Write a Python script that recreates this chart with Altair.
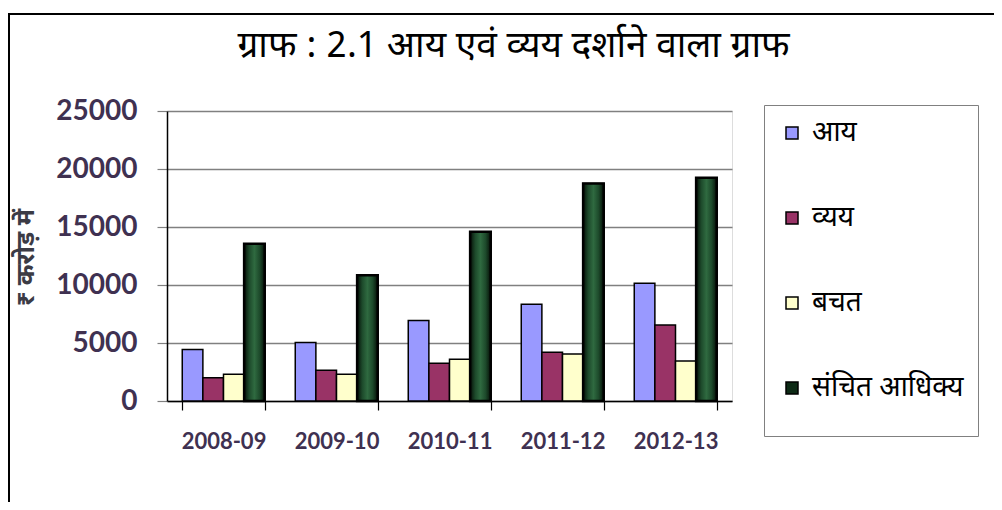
import altair as alt
import pandas as pd

years = ["2008-09", "2009-10", "2010-11", "2011-12", "2012-13"]
series = ["आय", "व्यय", "बचत", "संचित आधिक्य"]
aay = [4450, 5050, 6950, 8350, 10150]
vyay = [2000, 2650, 3250, 4200, 6550]
bachat = [2300, 2300, 3600, 4050, 3450]
sanchit = [13550, 10850, 14600, 18750, 19250]
colors = ["#9999ff", "#993366", "#ffffcc", "#0d2a15"]
y_ticks = [0, 5000, 10000, 15000, 20000, 25000]

rows = []
for name, vals in zip(series, [aay, vyay, bachat, sanchit]):
    for yr, v in zip(years, vals):
        rows.append({"year": yr, "series": name, "value": v})
df = pd.DataFrame(rows)

DEV = "Noto Sans Devanagari, Lohit Devanagari, FreeSans, sans-serif"
NUM = "Lato, Open Sans, sans-serif"

x_enc = alt.X("year:N", sort=years,
              scale=alt.Scale(paddingInner=0.27, paddingOuter=0.135),
              axis=alt.Axis(title=None, labelAngle=0, labelFont=NUM, labelFontSize=22,
                            labelFontWeight="bold", labelColor="#3f3151", labelPadding=21,
                            domainColor="black", domainWidth=1.5, tickColor="black",
                            tickWidth=1.2, tickSize=9, tickBand="extent", grid=False))
xo_enc = alt.XOffset("series:N", sort=series, scale=alt.Scale(domain=series, paddingInner=0))
y_enc = alt.Y("value:Q", scale=alt.Scale(domain=[0, 25000], nice=False),
              axis=alt.Axis(title="₹ करोड़ में", values=y_ticks, format="d",
                            titleFont=DEV, titleFontSize=25, titleFontWeight="bold",
                            titleColor="#3b3b45", titleX=-142, titleY=146, titleAngle=270,
                            titleAlign="center", titleBaseline="middle",
                            labelFont=NUM, labelFontSize=28, labelFontWeight="bold",
                            labelColor="#3f3151", labelPadding=20,
                            domainColor="black", domainWidth=1.5,
                            tickColor="#808080", tickSize=10, tickWidth=1.2,
                            gridColor="#808080", gridWidth=1.5))

base = alt.Chart(df).mark_bar(stroke="black", strokeWidth=1.5).encode(
    x=x_enc, xOffset=xo_enc, y=y_enc,
    color=alt.Color("series:N", sort=series,
                    scale=alt.Scale(domain=series, range=colors),
                    legend=alt.Legend(title=" ", titleOrient="bottom", titleFontSize=20,
                                      titlePadding=0, orient="none", legendX=597, legendY=-6,
                                      padding=14, strokeColor="#808080",
                                      fillColor="white", symbolType="square", symbolSize=144,
                                      symbolStrokeColor="black", symbolStrokeWidth=1.5,
                                      labelFont=DEV, labelFontSize=28, labelColor="black",
                                      labelOffset=6, rowPadding=57)),
)

grad = alt.Gradient(gradient="linear", x1=0, x2=1, y1=0, y2=0,
                    stops=[alt.GradientStop(color="#050f07", offset=0),
                           alt.GradientStop(color="#1d4a2b", offset=0.25),
                           alt.GradientStop(color="#2f6a40", offset=0.5),
                           alt.GradientStop(color="#1d4a2b", offset=0.75),
                           alt.GradientStop(color="#050f07", offset=1)])

overlay = alt.Chart(df).transform_filter(alt.datum.series == "संचित आधिक्य").mark_bar(
    color=grad, stroke="black", strokeWidth=2.5).encode(x=x_enc, xOffset=xo_enc, y=y_enc)

frame_top = alt.Chart(df).mark_rule(color="black", strokeWidth=2).encode(
    x=alt.value(-159), x2=alt.value(840), y=alt.value(-97))
frame_left = alt.Chart(df).mark_rule(color="black", strokeWidth=2).encode(
    x=alt.value(-158), y=alt.value(-98), y2=alt.value(420))

chart = alt.layer(base, overlay, frame_top, frame_left).properties(
    width=565, height=290,
    title=alt.TitleParams("ग्राफ : 2.1 आय एवं व्यय दर्शाने वाला ग्राफ", font=DEV,
                          fontSize=37, fontWeight="normal", color="black",
                          anchor="middle", frame="group", dx=64, dy=53, offset=0),
    autosize=alt.AutoSizeParams(type="none"),
    padding={"left": 159, "top": 103, "right": 262, "bottom": 101},
).configure_view(fill="#c0c0c0", stroke="#808080", strokeWidth=1.5).configure(background="white")

chart.save("out.html", embed_options={"renderer": "svg", "actions": False})
